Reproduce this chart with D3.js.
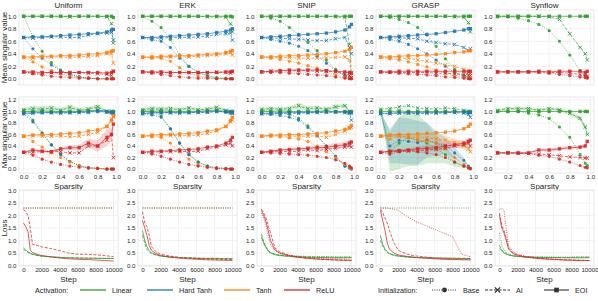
<!DOCTYPE html>
<html lang="en">
<head>
<meta charset="UTF-8"/>
<title>Singular values and loss</title>
<script src="https://d3js.org/d3.v7.min.js"></script>
<style>
  body { margin: 0; background: #fff; }
  text { font-family: "Liberation Sans", Arial, sans-serif; fill: #262626; }
</style>
</head>
<body>
<script>
    // ---- data ----
    var panels = ["Uniform", "ERK", "SNIP", "GRASP", "Synflow"];
    var activations = ["Linear", "Hard Tanh", "Tanh", "ReLU"];
    var inits = ["Base", "AI", "EOI"];
    var colors = ["#2ca02c", "#1f77b4", "#ff7f0e", "#d62728"];

    var sparsity = [0, 0.1, 0.2, 0.3, 0.4, 0.5, 0.6, 0.7, 0.8, 0.9, 0.95, 0.97];
    var sparsitySynflow = [0.1, 0.2, 0.3, 0.4, 0.5, 0.6, 0.7, 0.8, 0.9, 0.95, 0.97];
    var lossSteps = [0, 250, 500, 750, 1000, 1500, 2000, 3000, 4000, 5000, 6000, 7000, 8000, 9000, 10000];

    // each activation: [Base, AI, EOI]
    var meanUniform = [
        [[1.0, 0.67, 0.44, 0.26, 0.14, 0.07, 0.03, 0.01, 0.0, 0.0, 0.0, 0.0],
         [1.0, 1.0, 1.0, 1.0, 1.0, 0.99, 1.0, 1.0, 1.0, 0.99, 0.88, 0.57],
         [1.0, 1.0, 1.0, 1.0, 1.0, 1.0, 1.0, 1.0, 1.0, 1.0, 1.0, 0.98]],
        [[0.66, 0.48, 0.33, 0.22, 0.13, 0.07, 0.03, 0.01, 0.0, 0.0, 0.0, 0.0],
         [0.66, 0.65, 0.66, 0.67, 0.67, 0.66, 0.66, 0.70, 0.72, 0.73, 0.74, 0.62],
         [0.66, 0.67, 0.67, 0.68, 0.69, 0.70, 0.71, 0.72, 0.73, 0.75, 0.78, 0.79]],
        [[0.34, 0.27, 0.19, 0.13, 0.08, 0.04, 0.02, 0.01, 0.0, 0.0, 0.0, 0.0],
         [0.34, 0.33, 0.34, 0.35, 0.35, 0.34, 0.35, 0.36, 0.37, 0.40, 0.40, 0.25],
         [0.35, 0.35, 0.36, 0.36, 0.37, 0.37, 0.38, 0.39, 0.40, 0.42, 0.44, 0.45]],
        [[0.11, 0.08, 0.06, 0.04, 0.03, 0.02, 0.01, 0.01, 0.0, 0.0, 0.0, 0.0],
         [0.11, 0.09, 0.09, 0.10, 0.09, 0.10, 0.10, 0.09, 0.08, 0.07, 0.05, 0.12],
         [0.11, 0.11, 0.10, 0.10, 0.10, 0.10, 0.10, 0.10, 0.10, 0.09, 0.10, 0.12]]
    ];
    var meanERK = [
        [[1.0, 0.92, 0.82, 0.63, 0.38, 0.20, 0.10, 0.05, 0.02, 0.01, 0.0, 0.0],
         [1.0, 1.0, 1.0, 1.0, 1.0, 1.0, 1.0, 0.99, 0.99, 0.98, 0.88, 0.75],
         [1.0, 1.0, 1.0, 1.0, 1.0, 1.0, 1.0, 1.0, 1.0, 1.0, 1.0, 0.99]],
        [[0.66, 0.62, 0.60, 0.50, 0.33, 0.20, 0.10, 0.04, 0.01, 0.0, 0.0, 0.0],
         [0.66, 0.65, 0.65, 0.66, 0.66, 0.66, 0.67, 0.68, 0.71, 0.72, 0.73, 0.62],
         [0.66, 0.66, 0.67, 0.68, 0.69, 0.70, 0.71, 0.72, 0.74, 0.76, 0.78, 0.80]],
        [[0.34, 0.33, 0.33, 0.28, 0.18, 0.10, 0.05, 0.02, 0.0, 0.0, 0.0, 0.0],
         [0.34, 0.34, 0.34, 0.35, 0.35, 0.35, 0.36, 0.37, 0.38, 0.40, 0.42, 0.38],
         [0.35, 0.35, 0.36, 0.36, 0.37, 0.37, 0.38, 0.39, 0.40, 0.42, 0.44, 0.45]],
        [[0.11, 0.09, 0.07, 0.05, 0.03, 0.02, 0.01, 0.01, 0.0, 0.0, 0.0, 0.0],
         [0.11, 0.10, 0.10, 0.10, 0.10, 0.10, 0.10, 0.10, 0.11, 0.10, 0.09, 0.11],
         [0.11, 0.11, 0.11, 0.10, 0.10, 0.10, 0.10, 0.10, 0.10, 0.11, 0.11, 0.12]]
    ];
    var meanSNIP = [
        [[1.0, 0.97, 0.92, 0.82, 0.71, 0.58, 0.45, 0.30, 0.15, 0.05, 0.01, 0.0],
         [1.0, 1.0, 1.0, 1.0, 1.0, 1.0, 1.0, 1.0, 0.99, 0.98, 0.55, 0.10],
         [1.0, 1.0, 1.0, 1.0, 1.0, 1.0, 1.0, 1.0, 1.0, 1.0, 1.0, 1.0]],
        [[0.66, 0.63, 0.60, 0.57, 0.52, 0.45, 0.36, 0.25, 0.13, 0.05, 0.02, 0.01],
         [0.66, 0.65, 0.65, 0.64, 0.63, 0.62, 0.61, 0.61, 0.64, 0.66, 0.50, 0.40],
         [0.66, 0.67, 0.68, 0.69, 0.70, 0.71, 0.72, 0.73, 0.75, 0.78, 0.83, 0.87]],
        [[0.34, 0.33, 0.31, 0.28, 0.25, 0.21, 0.17, 0.11, 0.06, 0.02, 0.01, 0.0],
         [0.35, 0.34, 0.34, 0.34, 0.33, 0.33, 0.33, 0.33, 0.34, 0.35, 0.30, 0.05],
         [0.35, 0.35, 0.36, 0.37, 0.37, 0.38, 0.39, 0.40, 0.42, 0.44, 0.47, 0.50]],
        [[0.11, 0.10, 0.10, 0.09, 0.08, 0.07, 0.06, 0.05, 0.03, 0.01, 0.0, 0.0],
         [0.11, 0.12, 0.12, 0.13, 0.13, 0.13, 0.12, 0.12, 0.11, 0.08, 0.05, 0.02],
         [0.11, 0.12, 0.13, 0.14, 0.14, 0.14, 0.14, 0.13, 0.12, 0.11, 0.10, 0.09]]
    ];
    var meanGRASP = [
        [[1.0, 0.98, 0.95, 0.90, 0.82, 0.70, 0.52, 0.32, 0.15, 0.05, 0.02, 0.0],
         [1.0, 1.0, 1.0, 1.0, 1.0, 1.0, 1.0, 1.0, 0.99, 0.98, 0.90, 0.75],
         [1.0, 1.0, 1.0, 1.0, 1.0, 1.0, 1.0, 1.0, 1.0, 1.0, 1.0, 1.0]],
        [[0.66, 0.63, 0.60, 0.55, 0.48, 0.40, 0.30, 0.20, 0.10, 0.04, 0.01, 0.0],
         [0.66, 0.66, 0.65, 0.65, 0.64, 0.60, 0.58, 0.56, 0.55, 0.50, 0.45, 0.48],
         [0.66, 0.67, 0.68, 0.69, 0.70, 0.71, 0.72, 0.74, 0.76, 0.78, 0.80, 0.80]],
        [[0.34, 0.32, 0.30, 0.27, 0.23, 0.19, 0.14, 0.09, 0.05, 0.02, 0.01, 0.0],
         [0.35, 0.34, 0.33, 0.33, 0.30, 0.28, 0.25, 0.22, 0.20, 0.15, 0.10, 0.08],
         [0.35, 0.35, 0.36, 0.37, 0.37, 0.38, 0.39, 0.40, 0.42, 0.43, 0.45, 0.45]],
        [[0.11, 0.10, 0.09, 0.08, 0.07, 0.06, 0.05, 0.03, 0.02, 0.01, 0.0, 0.0],
         [0.11, 0.10, 0.10, 0.10, 0.10, 0.10, 0.09, 0.09, 0.08, 0.07, 0.06, 0.05],
         [0.11, 0.11, 0.12, 0.12, 0.12, 0.12, 0.12, 0.12, 0.12, 0.12, 0.12, 0.12]]
    ];
    var meanSynflow = [
        [[0.99, 0.99, 0.97, 0.93, 0.87, 0.77, 0.60, 0.38, 0.13, 0.05, 0.03],
         [1.0, 1.0, 1.0, 1.0, 1.0, 0.99, 0.95, 0.72, 0.50, 0.40, 0.30],
         [1.0, 1.0, 1.0, 1.0, 1.0, 1.0, 1.0, 1.0, 1.0, 1.0, 1.0]],
        null,
        null,
        [[0.11, 0.11, 0.11, 0.11, 0.10, 0.09, 0.07, 0.05, 0.03, 0.02, 0.01],
         [0.11, 0.11, 0.11, 0.11, 0.11, 0.10, 0.10, 0.09, 0.07, 0.05, 0.04],
         [0.11, 0.11, 0.11, 0.11, 0.12, 0.11, 0.12, 0.12, 0.12, 0.10, 0.12]]
    ];

    var maxUniform = [
        [[1.02, 0.85, 0.63, 0.42, 0.26, 0.13, 0.06, 0.02, 0.01, 0.0, 0.0, 0.0],
         [1.03, 1.05, 1.04, 1.06, 1.02, 1.07, 1.02, 1.04, 1.08, 1.0, 1.0, 0.98],
         [1.0, 1.0, 1.01, 1.0, 1.0, 1.0, 1.0, 1.01, 1.02, 1.0, 1.0, 1.0]],
        [[0.96, 0.82, 0.62, 0.42, 0.25, 0.13, 0.06, 0.02, 0.01, 0.0, 0.0, 0.0],
         [0.96, 0.97, 0.98, 0.98, 0.97, 0.98, 0.98, 0.99, 1.02, 1.0, 0.98, 0.97],
         [0.97, 0.98, 0.98, 0.98, 0.98, 0.98, 0.99, 0.99, 1.0, 0.99, 0.98, 0.98]],
        [[0.57, 0.48, 0.38, 0.28, 0.20, 0.12, 0.06, 0.02, 0.01, 0.0, 0.0, 0.0],
         [0.57, 0.58, 0.57, 0.57, 0.57, 0.56, 0.57, 0.60, 0.64, 0.74, 0.87, 0.90],
         [0.57, 0.59, 0.60, 0.60, 0.61, 0.62, 0.63, 0.66, 0.68, 0.74, 0.84, 0.92]],
        [[0.29, 0.24, 0.17, 0.12, 0.08, 0.05, 0.03, 0.02, 0.01, 0.0, 0.0, 0.0],
         [0.29, 0.29, 0.30, 0.30, 0.30, 0.28, 0.28, 0.40, 0.40, 0.50, 0.60, 0.20],
         [0.29, 0.33, 0.31, 0.30, 0.35, 0.37, 0.37, 0.45, 0.40, 0.55, 0.60, 0.78]]
    ];
    var maxERK = [
        [[1.02, 1.0, 0.92, 0.70, 0.45, 0.25, 0.12, 0.05, 0.02, 0.01, 0.0, 0.0],
         [1.03, 1.05, 1.04, 1.05, 1.03, 1.06, 1.03, 1.04, 1.07, 1.02, 1.0, 0.98],
         [1.0, 1.0, 1.01, 1.0, 1.0, 1.0, 1.0, 1.01, 1.02, 1.0, 1.0, 1.0]],
        [[0.96, 0.94, 0.90, 0.70, 0.45, 0.25, 0.12, 0.05, 0.02, 0.01, 0.0, 0.0],
         [0.96, 0.97, 0.98, 0.98, 0.97, 0.98, 0.98, 0.99, 1.0, 1.0, 0.98, 0.97],
         [0.97, 0.98, 0.98, 0.98, 0.98, 0.98, 0.99, 0.99, 1.0, 0.99, 0.98, 0.98]],
        [[0.57, 0.56, 0.55, 0.45, 0.30, 0.17, 0.08, 0.03, 0.01, 0.0, 0.0, 0.0],
         [0.57, 0.58, 0.57, 0.58, 0.58, 0.58, 0.59, 0.62, 0.66, 0.74, 0.82, 0.85],
         [0.57, 0.59, 0.60, 0.60, 0.61, 0.62, 0.63, 0.66, 0.68, 0.74, 0.84, 0.90]],
        [[0.29, 0.26, 0.22, 0.17, 0.12, 0.08, 0.05, 0.03, 0.01, 0.0, 0.0, 0.0],
         [0.29, 0.29, 0.30, 0.30, 0.31, 0.30, 0.31, 0.35, 0.38, 0.42, 0.45, 0.40],
         [0.29, 0.31, 0.31, 0.32, 0.33, 0.34, 0.35, 0.38, 0.40, 0.45, 0.50, 0.55]]
    ];
    var maxSNIP = [
        [[1.02, 1.0, 0.97, 0.95, 0.88, 0.75, 0.58, 0.40, 0.22, 0.05, 0.02, 0.0],
         [1.04, 1.05, 1.04, 1.05, 1.10, 1.05, 1.06, 1.04, 1.08, 1.10, 1.0, 0.98],
         [1.0, 1.0, 1.01, 1.0, 1.0, 1.0, 1.0, 1.01, 1.0, 1.0, 1.0, 1.0]],
        [[0.96, 0.95, 0.93, 0.90, 0.85, 0.72, 0.58, 0.40, 0.22, 0.05, 0.02, 0.0],
         [0.96, 0.96, 0.97, 0.97, 0.97, 0.98, 0.98, 0.99, 0.99, 0.98, 0.97, 0.85],
         [0.97, 0.97, 0.98, 0.98, 0.98, 0.98, 0.99, 0.99, 0.99, 0.99, 0.98, 0.98]],
        [[0.57, 0.57, 0.56, 0.54, 0.52, 0.48, 0.40, 0.30, 0.20, 0.08, 0.03, 0.01],
         [0.57, 0.58, 0.58, 0.57, 0.57, 0.57, 0.58, 0.55, 0.60, 0.66, 0.70, 0.72],
         [0.57, 0.59, 0.59, 0.60, 0.60, 0.61, 0.62, 0.63, 0.66, 0.69, 0.72, 0.76]],
        [[0.29, 0.28, 0.27, 0.26, 0.25, 0.24, 0.22, 0.20, 0.16, 0.10, 0.05, 0.02],
         [0.29, 0.30, 0.31, 0.30, 0.31, 0.33, 0.32, 0.34, 0.36, 0.38, 0.40, 0.38],
         [0.29, 0.31, 0.33, 0.34, 0.35, 0.36, 0.37, 0.38, 0.40, 0.42, 0.45, 0.47]]
    ];
    var maxGRASP = [
        [[1.02, 0.30, 0.45, 0.55, 0.50, 0.45, 0.35, 0.25, 0.12, 0.05, 0.02, 0.0],
         [1.04, 1.05, 1.08, 1.10, 1.06, 1.05, 1.04, 1.06, 1.05, 1.02, 1.0, 0.98],
         [1.0, 1.0, 1.01, 1.0, 1.0, 1.0, 1.0, 1.0, 1.0, 1.0, 1.0, 1.0]],
        [[0.96, 0.40, 0.50, 0.48, 0.46, 0.50, 0.45, 0.40, 0.28, 0.15, 0.05, 0.01],
         [0.96, 0.96, 0.97, 0.97, 0.96, 0.97, 0.97, 0.98, 0.98, 0.97, 0.95, 0.90],
         [0.97, 0.97, 0.98, 0.98, 0.98, 0.98, 0.98, 0.98, 0.99, 0.99, 0.98, 0.98]],
        [[0.57, 0.52, 0.58, 0.55, 0.50, 0.48, 0.45, 0.35, 0.20, 0.08, 0.03, 0.01],
         [0.57, 0.58, 0.57, 0.56, 0.55, 0.54, 0.52, 0.50, 0.46, 0.40, 0.35, 0.30],
         [0.57, 0.59, 0.60, 0.60, 0.61, 0.62, 0.63, 0.64, 0.66, 0.70, 0.74, 0.78]],
        [[0.29, 0.26, 0.30, 0.32, 0.30, 0.28, 0.25, 0.20, 0.12, 0.05, 0.02, 0.01],
         [0.29, 0.30, 0.31, 0.31, 0.32, 0.33, 0.34, 0.36, 0.40, 0.42, 0.45, 0.40],
         [0.29, 0.31, 0.32, 0.33, 0.35, 0.36, 0.37, 0.40, 0.42, 0.45, 0.48, 0.50]]
    ];
    var maxSynflow = [
        [[1.0, 1.0, 1.0, 0.97, 0.94, 0.88, 0.73, 0.55, 0.25, 0.10, 0.06],
         [1.02, 1.05, 1.05, 1.05, 1.02, 1.05, 1.03, 0.97, 0.88, 0.73, 0.60],
         [1.0, 1.0, 1.0, 1.0, 1.0, 1.0, 1.0, 1.0, 1.0, 1.0, 1.0]],
        null,
        null,
        [[0.28, 0.28, 0.28, 0.27, 0.24, 0.22, 0.17, 0.12, 0.06, 0.03, 0.02],
         [0.28, 0.28, 0.27, 0.27, 0.26, 0.25, 0.23, 0.21, 0.20, 0.19, 0.19],
         [0.28, 0.28, 0.28, 0.28, 0.33, 0.33, 0.35, 0.37, 0.38, 0.40, 0.48]]
    ];

    // spread bands on the max row: [activation, init, half-widths]
    var bandsUniform = [
        [0, 1, [0.04, 0.05, 0.05, 0.05, 0.04, 0.05, 0.04, 0.04, 0.05, 0.02, 0.02, 0.02]],
        [3, 2, [0.01, 0.02, 0.02, 0.02, 0.03, 0.04, 0.05, 0.08, 0.10, 0.14, 0.12, 0.10]]
    ];
    var bandsERK = [
        [0, 1, [0.03, 0.04, 0.04, 0.04, 0.03, 0.04, 0.03, 0.03, 0.04, 0.02, 0.02, 0.02]]
    ];
    var bandsSNIP = [
        [0, 1, [0.03, 0.03, 0.03, 0.04, 0.05, 0.04, 0.04, 0.03, 0.04, 0.04, 0.02, 0.02]],
        [3, 2, [0.01, 0.02, 0.02, 0.02, 0.02, 0.03, 0.03, 0.04, 0.05, 0.05, 0.05, 0.05]]
    ];
    var bandsGRASP = [
        [0, 0, [0.0, 0.35, 0.45, 0.50, 0.45, 0.35, 0.25, 0.15, 0.08, 0.03, 0.01, 0.0]],
        [1, 0, [0.0, 0.30, 0.40, 0.40, 0.38, 0.30, 0.22, 0.15, 0.10, 0.05, 0.02, 0.0]],
        [2, 1, [0.02, 0.03, 0.04, 0.05, 0.06, 0.08, 0.08, 0.08, 0.07, 0.06, 0.05, 0.05]],
        [3, 2, [0.01, 0.02, 0.03, 0.03, 0.04, 0.05, 0.05, 0.06, 0.06, 0.06, 0.05, 0.05]]
    ];
    var bandsSynflow = [
        [0, 1, [0.02, 0.03, 0.03, 0.03, 0.03, 0.03, 0.03, 0.04, 0.04, 0.04, 0.04]],
        [3, 2, [0.01, 0.01, 0.02, 0.02, 0.02, 0.03, 0.03, 0.03, 0.03, 0.04, 0.04]]
    ];

    // loss curves: Linear and ReLU only, each [Base, AI, EOI]
    var lossUniform = [
        [[2.30, 2.30, 2.30, 2.30, 2.30, 2.30, 2.30, 2.30, 2.30, 2.30, 2.30, 2.30, 2.30, 2.30, 2.30],
         [0.65, 0.58, 0.52, 0.47, 0.44, 0.40, 0.37, 0.34, 0.32, 0.31, 0.30, 0.30, 0.29, 0.29, 0.28],
         [0.70, 0.62, 0.55, 0.50, 0.46, 0.41, 0.38, 0.35, 0.33, 0.31, 0.30, 0.29, 0.29, 0.28, 0.28]],
        null, null,
        [[2.30, 2.30, 2.30, 2.30, 2.30, 2.30, 2.30, 2.30, 2.30, 2.30, 2.30, 2.30, 2.30, 2.30, 2.30],
         [2.25, 2.15, 2.00, 1.50, 0.85, 0.80, 0.75, 0.68, 0.60, 0.50, 0.45, 0.45, 0.43, 0.40, 0.35],
         [1.70, 1.55, 1.35, 0.62, 0.52, 0.45, 0.40, 0.35, 0.30, 0.27, 0.25, 0.24, 0.22, 0.20, 0.18]]
    ];
    var lossERK = [
        [[2.30, 2.30, 2.30, 2.30, 2.30, 2.30, 2.30, 2.30, 2.30, 2.30, 2.30, 2.30, 2.30, 2.30, 2.30],
         [1.20, 0.90, 0.65, 0.55, 0.48, 0.42, 0.38, 0.34, 0.32, 0.31, 0.30, 0.29, 0.29, 0.28, 0.28],
         [1.40, 1.00, 0.75, 0.60, 0.50, 0.43, 0.38, 0.34, 0.32, 0.30, 0.29, 0.28, 0.28, 0.27, 0.27]],
        null, null,
        [[2.30, 2.30, 2.30, 2.30, 2.30, 2.30, 2.30, 2.30, 2.30, 2.30, 2.30, 2.30, 2.30, 2.30, 2.30],
         [2.15, 1.70, 1.55, 1.20, 0.75, 0.55, 0.45, 0.38, 0.33, 0.30, 0.28, 0.26, 0.25, 0.24, 0.23],
         [1.80, 1.50, 1.20, 0.80, 0.60, 0.48, 0.40, 0.34, 0.30, 0.27, 0.25, 0.23, 0.22, 0.21, 0.20]]
    ];
    var lossSNIP = [
        [[1.10, 0.85, 0.70, 0.58, 0.50, 0.45, 0.42, 0.40, 0.38, 0.37, 0.36, 0.36, 0.35, 0.35, 0.35],
         [1.25, 0.95, 0.75, 0.60, 0.52, 0.45, 0.41, 0.38, 0.36, 0.35, 0.34, 0.34, 0.33, 0.33, 0.33],
         [1.15, 0.90, 0.72, 0.58, 0.50, 0.43, 0.40, 0.36, 0.34, 0.33, 0.32, 0.32, 0.31, 0.31, 0.31]],
        null, null,
        [[2.10, 1.90, 1.60, 1.20, 0.85, 0.60, 0.50, 0.40, 0.35, 0.32, 0.30, 0.28, 0.27, 0.26, 0.25],
         [2.25, 2.10, 1.90, 1.60, 1.30, 0.70, 0.55, 0.42, 0.35, 0.30, 0.27, 0.25, 0.23, 0.22, 0.20],
         [2.20, 2.00, 1.75, 1.40, 1.00, 0.62, 0.50, 0.40, 0.33, 0.29, 0.26, 0.24, 0.22, 0.21, 0.20]]
    ];
    var lossGRASP = [
        [[2.30, 2.30, 2.30, 2.30, 2.30, 2.30, 2.30, 2.30, 2.30, 2.30, 2.30, 2.30, 2.30, 2.30, 2.30],
         [1.00, 0.75, 0.60, 0.52, 0.46, 0.40, 0.37, 0.34, 0.32, 0.31, 0.30, 0.30, 0.29, 0.29, 0.28],
         [1.20, 0.85, 0.65, 0.55, 0.48, 0.42, 0.38, 0.34, 0.32, 0.31, 0.30, 0.29, 0.29, 0.28, 0.28]],
        null, null,
        [[2.30, 2.30, 2.30, 2.30, 2.28, 2.25, 2.20, 1.95, 1.75, 1.60, 1.45, 1.30, 1.15, 0.45, 0.35],
         [2.25, 2.10, 1.90, 1.70, 1.40, 0.90, 0.60, 0.45, 0.38, 0.34, 0.30, 0.28, 0.26, 0.25, 0.24],
         [2.20, 1.80, 1.40, 0.90, 0.65, 0.50, 0.42, 0.36, 0.32, 0.29, 0.27, 0.25, 0.24, 0.23, 0.22]]
    ];
    var lossSynflow = [
        [[1.30, 0.80, 0.62, 0.52, 0.46, 0.40, 0.37, 0.35, 0.34, 0.34, 0.34, 0.34, 0.34, 0.35, 0.35],
         [0.80, 0.62, 0.55, 0.48, 0.43, 0.39, 0.36, 0.34, 0.33, 0.33, 0.32, 0.32, 0.32, 0.33, 0.33],
         [0.70, 0.58, 0.50, 0.45, 0.42, 0.38, 0.36, 0.34, 0.33, 0.32, 0.32, 0.31, 0.31, 0.31, 0.31]],
        null, null,
        [[2.25, 2.30, 2.20, 1.50, 0.80, 0.55, 0.45, 0.36, 0.32, 0.28, 0.26, 0.24, 0.22, 0.21, 0.20],
         [2.10, 1.60, 1.40, 1.10, 0.70, 0.50, 0.42, 0.35, 0.30, 0.27, 0.25, 0.23, 0.22, 0.21, 0.20],
         [2.00, 1.50, 1.30, 1.00, 0.65, 0.48, 0.40, 0.33, 0.29, 0.26, 0.24, 0.22, 0.21, 0.20, 0.19]]
    ];

    var meanData = [meanUniform, meanERK, meanSNIP, meanGRASP, meanSynflow];
    var maxData = [maxUniform, maxERK, maxSNIP, maxGRASP, maxSynflow];
    var bandData = [bandsUniform, bandsERK, bandsSNIP, bandsGRASP, bandsSynflow];
    var lossData = [lossUniform, lossERK, lossSNIP, lossGRASP, lossSynflow];

    var yTicksMean = [0.0, 0.2, 0.4, 0.6, 0.8, 1.0];
    var yTicksMax = [0.0, 0.2, 0.4, 0.6, 0.8, 1.0, 1.2];
    var yTicksLoss = [0.0, 0.5, 1.0, 1.5, 2.0, 2.5, 3.0];
    var xTicksSparsity = [0.0, 0.2, 0.4, 0.6, 0.8, 1.0];
    var xTicksSynflow = [0.2, 0.4, 0.6, 0.8, 1.0];
    var xTicksStep = [0, 2000, 4000, 6000, 8000, 10000];

    // ---- layout ----
    var W = 598, H = 301;
    var colX = [19, 138, 257, 376, 495];
    var pw = 99;
    var rows = [
        { top: 10, bottom: 85, domain: [-0.1, 1.1], ticks: yTicksMean, label: "Mean singular value" },
        { top: 97, bottom: 173, domain: [-0.07, 1.252], ticks: yTicksMax, label: "Max singular value" },
        { top: 190, bottom: 266, domain: [-0.02, 3.02], ticks: yTicksLoss, label: "Loss" }
    ];
    var dashes = ["1,1.3", "3,1.5", null];

    var svg = d3.select("body")
                .append("svg")
                .attr("width", W)
                .attr("height", H);

    function markerPath(init) {
        if (init === 0) return d3.symbol().type(d3.symbolCircle).size(8)();
        if (init === 1) return d3.symbol().type(d3.symbolX).size(10)();
        return d3.symbol().type(d3.symbolSquare).size(11)();
    }

    function drawFrame(g, x, y, row, xTicks, xFmt, showXLabels) {
        var ph = row.bottom - row.top;
        g.selectAll(".gy").data(row.ticks).enter().append("line")
            .attr("x1", 0).attr("x2", pw)
            .attr("y1", function(d) { return y(d); })
            .attr("y2", function(d) { return y(d); })
            .attr("stroke", "#ebebeb").attr("stroke-width", 0.7);
        g.selectAll(".gx").data(xTicks).enter().append("line")
            .attr("y1", 0).attr("y2", ph)
            .attr("x1", function(d) { return x(d); })
            .attr("x2", function(d) { return x(d); })
            .attr("stroke", "#ebebeb").attr("stroke-width", 0.7);
        g.append("rect")
            .attr("width", pw).attr("height", ph)
            .attr("fill", "none").attr("stroke", "#dedede").attr("stroke-width", 0.7);

        var yAxis = d3.axisLeft(y).tickValues(row.ticks).tickSize(0).tickPadding(2.5)
                      .tickFormat(d3.format(".1f"));
        var ya = g.append("g").call(yAxis);
        ya.select(".domain").remove();
        ya.selectAll("text").attr("font-size", 6.2).attr("fill", "#333");

        if (showXLabels) {
            var xAxis = d3.axisBottom(x).tickValues(xTicks).tickSize(0).tickPadding(2)
                          .tickFormat(xFmt);
            var xa = g.append("g")
                      .attr("transform", "translate(0," + ph + ")")
                      .call(xAxis);
            xa.select(".domain").remove();
            xa.selectAll("text").attr("font-size", 6.2).attr("fill", "#333");
        }
    }

    function drawBands(g, x, y, xs, acts, bands) {
        bands.forEach(function(b) {
            var mid = acts[b[0]][b[1]];
            var pts = mid.map(function(v, k) { return [xs[k], v - b[2][k], v + b[2][k]]; });
            var area = d3.area()
                .x(function(d) { return x(d[0]); })
                .y0(function(d) { return y(d[1]); })
                .y1(function(d) { return y(d[2]); });
            g.append("path")
                .attr("d", area(pts))
                .attr("fill", colors[b[0]])
                .attr("fill-opacity", 0.2);
        });
    }

    function drawSeries(g, x, y, xs, acts, withMarkers) {
        acts.forEach(function(act, a) {
            if (!act) return;
            act.forEach(function(vals, i) {
                var pts = vals.map(function(v, k) { return [xs[k], v]; });
                var line = d3.line()
                    .x(function(d) { return x(d[0]); })
                    .y(function(d) { return y(d[1]); });
                g.append("path")
                    .attr("d", line(pts))
                    .attr("fill", "none")
                    .attr("stroke", colors[a])
                    .attr("stroke-width", withMarkers ? 0.8 : 0.9)
                    .attr("stroke-opacity", 0.85)
                    .attr("stroke-dasharray", dashes[i]);
                if (withMarkers) {
                    g.selectAll(null).data(pts).enter().append("path")
                        .attr("transform", function(d) {
                            return "translate(" + x(d[0]) + "," + y(d[1]) + ")";
                        })
                        .attr("d", markerPath(i))
                        .attr("fill", i === 1 ? "none" : colors[a])
                        .attr("stroke", colors[a])
                        .attr("stroke-width", i === 1 ? 0.9 : 0)
                        .attr("fill-opacity", 0.9);
                }
            });
        });
    }

    panels.forEach(function(name, p) {
        var isSyn = name === "Synflow";
        var xs = isSyn ? sparsitySynflow : sparsity;
        var xS = d3.scaleLinear()
                   .domain(isSyn ? [0.075, 1.035] : [-0.05, 1.02])
                   .range([0, pw]);
        var xL = d3.scaleLinear().domain([-500, 10500]).range([0, pw]);
        var xTicks = isSyn ? xTicksSynflow : xTicksSparsity;

        [meanData, maxData].forEach(function(set, r) {
            var row = rows[r];
            var y = d3.scaleLinear().domain(row.domain).range([row.bottom - row.top, 0]);
            var g = svg.append("g")
                       .attr("transform", "translate(" + colX[p] + "," + row.top + ")");
            drawFrame(g, xS, y, row, xTicks, d3.format(".1f"), r === 1);
            if (r === 1) drawBands(g, xS, y, xs, set[p], bandData[p]);
            drawSeries(g, xS, y, xs, set[p], true);
            if (r === 1) {
                g.append("text")
                    .attr("x", pw / 2).attr("y", row.bottom - row.top + 15.5)
                    .attr("text-anchor", "middle").attr("font-size", 8)
                    .text("Sparsity");
            }
        });

        var row = rows[2];
        var y = d3.scaleLinear().domain(row.domain).range([row.bottom - row.top, 0]);
        var g = svg.append("g")
                   .attr("transform", "translate(" + colX[p] + "," + row.top + ")");
        drawFrame(g, xL, y, row, xTicksStep, d3.format("d"), true);
        drawSeries(g, xL, y, lossSteps, lossData[p], false);
        g.append("text")
            .attr("x", pw / 2).attr("y", row.bottom - row.top + 15.5)
            .attr("text-anchor", "middle").attr("font-size", 8)
            .text("Step");

        svg.append("text")
            .attr("x", colX[p] + pw / 2).attr("y", 8)
            .attr("text-anchor", "middle").attr("font-size", 8)
            .text(name);
    });

    rows.forEach(function(row) {
        var cy = (row.top + row.bottom) / 2;
        svg.append("text")
            .attr("transform", "translate(6.5," + cy + ") rotate(-90)")
            .attr("text-anchor", "middle").attr("font-size", 8)
            .text(row.label);
    });

    // ---- legend ----
    var ly = 290;
    svg.append("text").attr("x", 35).attr("y", ly + 2.5).attr("font-size", 7.2).text("Activation:");
    var actX = [80, 147, 224, 284];
    activations.forEach(function(a, i) {
        svg.append("line")
            .attr("x1", actX[i]).attr("x2", actX[i] + 26)
            .attr("y1", ly).attr("y2", ly)
            .attr("stroke", colors[i]).attr("stroke-width", 1.3);
        svg.append("text").attr("x", actX[i] + 32).attr("y", ly + 2.5)
            .attr("font-size", 7.2).text(a);
    });
    svg.append("text").attr("x", 378).attr("y", ly + 2.5).attr("font-size", 7.2).text("Initialization:");
    var initX = [432, 485, 544];
    inits.forEach(function(n, i) {
        svg.append("line")
            .attr("x1", initX[i]).attr("x2", initX[i] + 25)
            .attr("y1", ly).attr("y2", ly)
            .attr("stroke", "#333").attr("stroke-width", 1.1)
            .attr("stroke-dasharray", dashes[i]);
        svg.append("path")
            .attr("transform", "translate(" + (initX[i] + 12.5) + "," + ly + ")")
            .attr("d", i === 0 ? d3.symbol().type(d3.symbolCircle).size(18)()
                     : i === 1 ? d3.symbol().type(d3.symbolX).size(20)()
                     : d3.symbol().type(d3.symbolSquare).size(22)())
            .attr("fill", "#333").attr("stroke", "#333")
            .attr("stroke-width", i === 1 ? 1.3 : 0);
        svg.append("text").attr("x", initX[i] + 31).attr("y", ly + 2.5)
            .attr("font-size", 7.2).text(n);
    });
</script>
</body>
</html>
